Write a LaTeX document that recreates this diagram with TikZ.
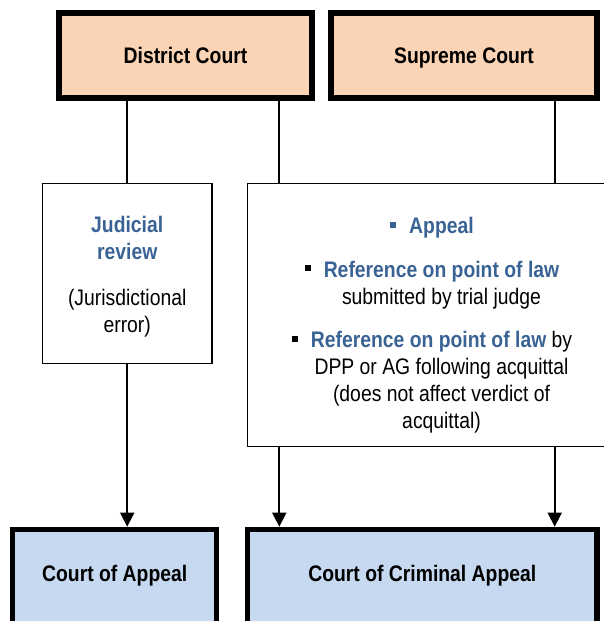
\documentclass[tikz,border=0pt]{standalone}
\usepackage{fontspec}
\setmainfont[FakeStretch=0.86]{Liberation Sans}
\usetikzlibrary{arrows.meta}
\usetikzlibrary{positioning}
\tikzset{court/.style = {draw, line width=6pt, minimum height=84.7pt},
         courtname/.style = {font=\fontsize{22.5}{27}\selectfont\bfseries, text height=16pt, text depth=0pt},
         upper/.style = {court, courtname, fill=mpeach},
         lower/.style = {court, fill=mblue, line width=5.3pt, minimum height=130pt, anchor=north},
         notebox/.style = {draw, line width=1.5pt},
         note/.style = {align=center, inner sep=0pt, anchor=north, font=\fontsize{22.5}{27}\selectfont},
         link/.style = {line width=1.7pt},
         arr/.style = {link, -{Triangle[width=14pt, length=14pt]}}}
\definecolor{mpeach}{HTML}{FAD4B4}
\definecolor{mblue}{HTML}{C6D9F0}
\definecolor{mtext}{HTML}{3A6395}
\newcommand{\hl}[1]{\textcolor{mtext}{\bfseries #1}}
\newcommand{\sqb}[1]{\llap{\textcolor{#1}{\rule[6pt]{6pt}{6pt}}\hspace{13pt}}}

\begin{document}
\begin{tikzpicture}[x=1pt, y=-1pt]
    \useasboundingbox (0, 0) rectangle (604, 621);

    \node [upper, minimum width=253pt] (dc) at (185.5, 55.3) {District Court};
    \node [upper, minimum width=266pt] (sc) at (464, 55.3) {Supreme Court};

    \node [notebox, minimum width=169.6pt, minimum height=180pt] (jr) at (127.2, 273.5) {};
    \node [note] (jrtext) at (127.2, 216) {\hl{Judicial}\\\hl{review}\\[18.5pt](Jurisdictional\\error)};

    \node [notebox, minimum width=388pt, minimum height=263pt] (ref) at (441.5, 315) {};
    \node [note] (reftext) at (441.5, 217) {\sqb{mtext}\hl{Appeal}\\[16.5pt]
        \sqb{black}\hl{Reference on point of law}\\submitted by trial judge\\[16.5pt]
        \sqb{black}\hl{Reference on point of law} by\\DPP or AG following acquittal\\
        (does not affect verdict of\\acquittal)};

    \node [lower, minimum width=204pt] (coa) at (114.7, 526.7) {};
    \node [courtname] (coatext) at (114.7, 573.3) {Court of Appeal};
    \node [lower, minimum width=349.3pt] (cca) at (422.3, 526.7) {};
    \node [courtname] (ccatext) at (422.3, 573.3) {Court of Criminal Appeal};

    \coordinate (lx) at (279.3, 0);
    \coordinate (rx) at (554.7, 0);
    \draw [link] (dc.south -| jr.north) -- (jr.north);
    \draw [link] (dc.south -| lx) -- (ref.north -| lx);
    \draw [link] (sc.south -| rx) -- (ref.north -| rx);
    \draw [arr] (jr.south) -- (coa.north -| jr.south);
    \draw [arr] (ref.south -| lx) -- (cca.north -| lx);
    \draw [arr] (ref.south -| rx) -- (cca.north -| rx);
\end{tikzpicture}
\end{document}
